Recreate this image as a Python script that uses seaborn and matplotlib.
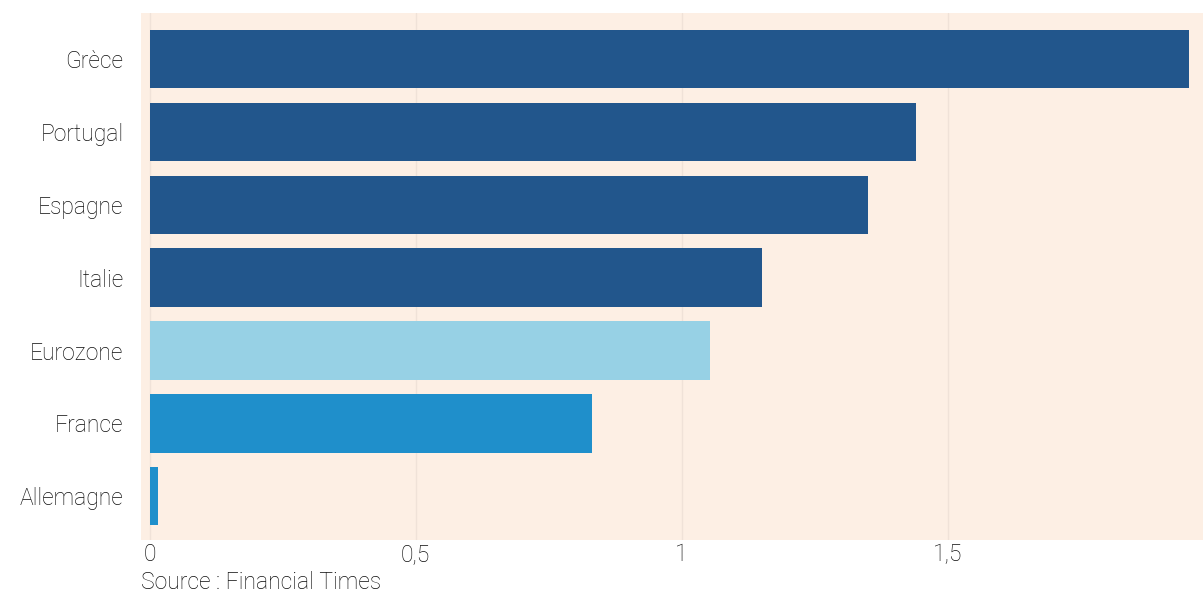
import pandas as pd
import matplotlib.pyplot as plt
import seaborn as sns

countries = ["Grèce", "Portugal", "Espagne", "Italie", "Eurozone", "France", "Allemagne"]
values = [1.953, 1.44, 1.351, 1.150, 1.054, 0.831, 0.015]
colors = ["#22568c", "#22568c", "#22568c", "#22568c", "#97d1e5", "#1f8fcb", "#1f8fcb"]
xticks = [0, 0.5, 1, 1.5]
xtick_labels = ["0", "0,5", "1", "1,5"]

df = pd.DataFrame({"pays": countries, "valeur": values})

sns.set_theme(style="white")
plt.rcParams["font.family"] = ["Roboto", "DejaVu Sans"]
plt.rcParams["font.weight"] = "light"

fig = plt.figure(figsize=(12.03, 5.96), dpi=100)
ax = fig.add_axes([0.117, 0.094, 0.883, 0.884])
ax.set_facecolor("#fdefe4")

sns.barplot(data=df, x="valeur", y="pays", hue="pays", palette=colors,
            saturation=1, legend=False, width=0.8, ax=ax, edgecolor="none")

ax.set_xlim(-0.017, 1.98)
ax.set_ylim(6.6, -0.63)
ax.set_xticks(xticks)
ax.set_xticklabels(xtick_labels)
ax.xaxis.grid(True, color="#f0e2d8", linewidth=1)
ax.set_axisbelow(True)
ax.set_xlabel("")
ax.set_ylabel("")
for s in ax.spines.values():
    s.set_visible(False)
ax.tick_params(axis="y", direction="in", length=6.5, color="#eadfd6",
               labelsize=16.5, pad=12.5, labelcolor="#0d0d0d")
ax.tick_params(axis="x", length=0, labelsize=16.5, pad=2, labelcolor="#0d0d0d")

fig.text(0.117, 0.012, "Source : Financial Times", fontsize=16.5, color="#0d0d0d")

fig.savefig("out.png", dpi=100)
